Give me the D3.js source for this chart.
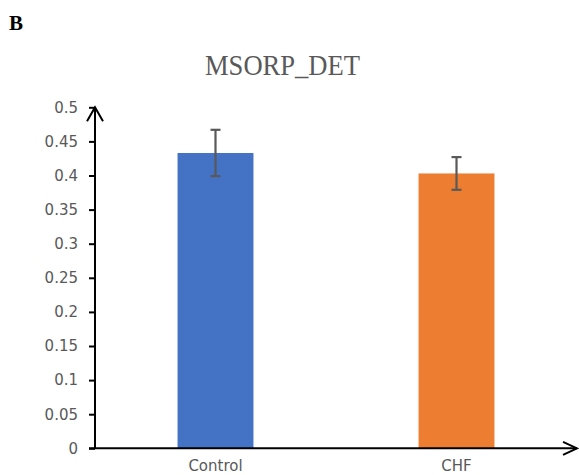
<!DOCTYPE html>
<html>
<head>
<meta charset="utf-8">
<script src="https://cdn.jsdelivr.net/npm/d3@7"></script>
<style>
  html, body { margin: 0; padding: 0; background: #fff; }
  svg { display: block; }
</style>
</head>
<body>
<svg id="chart" width="579" height="475"></svg>
<script>
// Group means with their error (± SD) for MSORP_DET
const categories = ["Control", "CHF"];
const means = [0.433, 0.403];
const errors = [0.034, 0.024];
const colors = ["#4472C4", "#ED7D31"];
const yTicks = [0, 0.05, 0.1, 0.15, 0.2, 0.25, 0.3, 0.35, 0.4, 0.45, 0.5];

const svg = d3.select("#chart");
const plotLeft = 95, plotRight = 577, plotTop = 107.3, plotBottom = 448.3;

const x = d3.scaleBand()
  .domain(categories)
  .range([plotLeft, plotRight])
  .paddingInner(0.685)
  .paddingOuter(0.3425);

const y = d3.scaleLinear().domain([0, 0.5]).range([plotBottom, plotTop]);

// Panel letter and title
svg.append("text")
  .attr("x", 9).attr("y", 30)
  .attr("font-family", "Liberation Serif, Times New Roman, serif")
  .attr("font-weight", "bold")
  .attr("font-size", 21)
  .attr("fill", "#000")
  .text("B");

svg.append("text")
  .attr("x", 282.5).attr("y", 75)
  .attr("text-anchor", "middle")
  .attr("font-family", "Liberation Serif, Times New Roman, serif")
  .attr("font-size", 29)
  .attr("textLength", 155)
  .attr("lengthAdjust", "spacingAndGlyphs")
  .attr("fill", "#595959")
  .text("MSORP_DET");

// Bars
svg.append("g").selectAll("rect")
  .data(categories)
  .join("rect")
  .attr("x", d => x(d))
  .attr("width", x.bandwidth())
  .attr("y", (d, i) => y(means[i]))
  .attr("height", (d, i) => y(0) - y(means[i]))
  .attr("fill", (d, i) => colors[i]);

// Error bars
const eb = svg.append("g")
  .attr("stroke", "#595959")
  .attr("stroke-width", 2.2);
categories.forEach((c, i) => {
  const cx = x(c) + x.bandwidth() / 2;
  const y1 = y(means[i] + errors[i]);
  const y0 = y(means[i] - errors[i]);
  eb.append("line").attr("x1", cx).attr("x2", cx).attr("y1", y1).attr("y2", y0);
  eb.append("line").attr("x1", cx - 5).attr("x2", cx + 5).attr("y1", y1).attr("y2", y1);
  eb.append("line").attr("x1", cx - 5).attr("x2", cx + 5).attr("y1", y0).attr("y2", y0);
});

// Y axis with ticks
const yAxis = d3.axisLeft(y)
  .tickValues(yTicks)
  .tickFormat(d => String(+d.toFixed(2)))
  .tickSize(6)
  .tickPadding(11);
const gy = svg.append("g")
  .attr("transform", `translate(${plotLeft},0)`)
  .call(yAxis);
gy.select(".domain").remove();
gy.selectAll(".tick line").attr("stroke", "#000").attr("stroke-width", 2);
gy.selectAll(".tick text")
  .attr("fill", "#595959")
  .attr("font-family", "DejaVu Sans, Verdana, sans-serif")
  .attr("font-size", 15);

// X axis category labels
const xAxis = d3.axisBottom(x).tickSize(0).tickPadding(12);
const gx = svg.append("g")
  .attr("transform", `translate(0,${plotBottom})`)
  .call(xAxis);
gx.select(".domain").remove();
gx.selectAll(".tick text")
  .attr("fill", "#595959")
  .attr("font-family", "DejaVu Sans, Verdana, sans-serif")
  .attr("font-size", 15);

// Axis lines with arrowheads
const axes = svg.append("g")
  .attr("stroke", "#000")
  .attr("stroke-width", 2)
  .attr("fill", "none");
axes.append("line").attr("x1", plotLeft).attr("x2", plotLeft).attr("y1", plotBottom).attr("y2", plotTop);
axes.append("path").attr("d", `M${plotLeft - 8},${plotTop + 14} L${plotLeft},${plotTop} L${plotLeft + 8},${plotTop + 14}`);
axes.append("line").attr("x1", plotLeft - 6).attr("x2", plotRight).attr("y1", plotBottom).attr("y2", plotBottom);
axes.append("path").attr("d", `M${plotRight - 14},${plotBottom - 6.5} L${plotRight},${plotBottom} L${plotRight - 14},${plotBottom + 6.5}`);
</script>
</body>
</html>
